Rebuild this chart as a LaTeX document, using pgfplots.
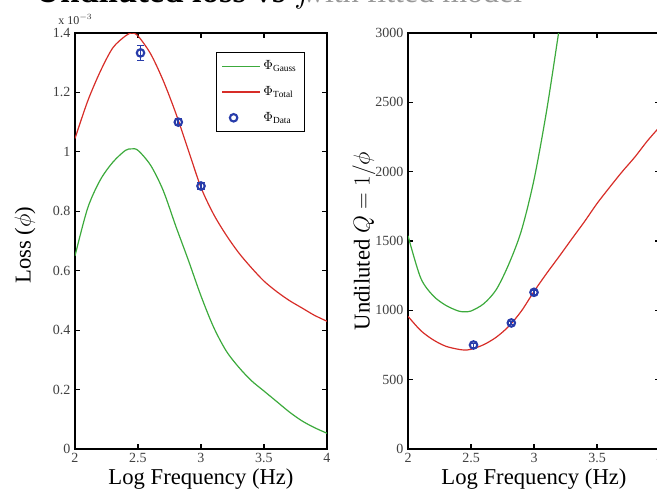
\documentclass[border=0pt]{standalone}
\usepackage{pgfplots}
\pgfplotsset{compat=1.18}
\usepackage{fontspec}
\setmainfont{Liberation Serif}
\definecolor{mgreen}{RGB}{60,170,60}
\definecolor{mred}{RGB}{215,45,40}
\definecolor{mblue}{RGB}{40,60,170}
\pgfplotsset{
  mylegline/.style={legend image code/.code={\draw[##1] (0cm,0cm) -- (1.0cm,0cm);}},
  myax/.style={
    scale only axis, width=189pt, height=312pt,
    xmin=2, xmax=4, xtick={2,2.5,3,3.5,4},
    tick align=inside, major tick length=4pt,
    tick style={black, line width=0.8pt},
    axis line style={line width=0.9pt},
    ticklabel style={font=\fontsize{10.5}{12}\selectfont, text=black!75},
    /pgf/number format/assume math mode=true,
    /pgf/number format/1000 sep={},
    xlabel={Log Frequency (Hz)},
    label style={font=\fontsize{17}{20}\selectfont},
    xlabel style={at={(axis description cs:0.5,0)}, anchor=center, yshift=-22.5pt},
  }
}
\begin{document}
\begin{tikzpicture}
\begin{axis}[myax,
  ymin=0, ymax=1.4, ytick={0,0.2,0.4,0.6,0.8,1,1.2,1.4},
  ylabel={Loss ($\phi$)},
  ylabel style={at={(axis description cs:-0.198,0.49)}, anchor=center},
  legend style={at={(0.913,0.954)}, anchor=north east, draw=black, line width=0.8pt,
    font=\fontsize{10}{12}\selectfont, row sep=7pt, inner sep=4pt},
  legend cell align=left,
]
\addplot[mgreen, line width=0.9pt, smooth, mylegline] coordinates {
(2.0,0.65) (2.1,0.81) (2.2,0.905) (2.3,0.965) (2.4,1.005) (2.45,1.01) (2.5,1.005)
(2.6,0.955) (2.7,0.87) (2.8,0.75) (2.9,0.635) (3.0,0.515) (3.1,0.41) (3.2,0.33)
(3.3,0.275) (3.4,0.23) (3.5,0.195) (3.6,0.16) (3.7,0.125) (3.8,0.095) (3.9,0.072) (4.0,0.053)};
\addlegendentry{$\Phi_{\mathrm{Gauss}}$}
\addplot[mred, line width=0.9pt, smooth, mylegline] coordinates {
(2.0,1.045) (2.1,1.17) (2.2,1.27) (2.3,1.35) (2.4,1.39) (2.45,1.40) (2.5,1.39)
(2.6,1.33) (2.7,1.24) (2.8,1.13) (2.9,1.005) (3.0,0.88) (3.1,0.79) (3.2,0.72)
(3.3,0.66) (3.4,0.61) (3.5,0.565) (3.6,0.53) (3.7,0.50) (3.8,0.475) (3.9,0.45) (4.0,0.43)};
\addlegendentry{$\Phi_{\mathrm{Total}}$}
\addplot[mblue, only marks, mark=o, mark size=2.8pt, line width=1.6pt,
  error bars/.cd, y dir=both, y explicit, error bar style={line width=1.4pt}] coordinates {
(2.52,1.333) +- (0,0.025)
(2.82,1.10) +- (0,0.012)
(3.0,0.885) +- (0,0.012)};
\addlegendentry{$\Phi_{\mathrm{Data}}$}
\end{axis}
\node[anchor=south west, font=\fontsize{9}{10}\selectfont, text=black!80, inner sep=0pt] at (-12.75pt,318pt) {x 10$^{-3}$};
\begin{axis}[myax, at={(249.75pt,0)},
  ymin=0, ymax=3000, ytick={0,500,1000,1500,2000,2500,3000},
  ylabel={Undiluted $Q = 1/\phi$},
  ylabel style={at={(axis description cs:-0.175,0.5)}, anchor=center},
]
\addplot[mgreen, line width=0.9pt, smooth] coordinates {
(2.0,1538) (2.1,1235) (2.2,1105) (2.3,1036) (2.4,995) (2.45,990) (2.5,995)
(2.6,1047) (2.7,1149) (2.8,1333) (2.9,1575) (3.0,1942) (3.1,2439) (3.2,3030) (3.3,3636)};
\addplot[mred, line width=0.9pt, smooth] coordinates {
(2.0,957) (2.1,855) (2.2,787) (2.3,741) (2.4,719) (2.45,714) (2.5,719)
(2.6,752) (2.7,806) (2.8,885) (2.9,995) (3.0,1136) (3.1,1266) (3.2,1389)
(3.3,1515) (3.4,1639) (3.5,1770) (3.6,1887) (3.7,2000) (3.8,2105) (3.9,2222) (4.0,2326)};
\addplot[mblue, only marks, mark=o, mark size=2.8pt, line width=1.6pt,
  error bars/.cd, y dir=both, y explicit, error bar style={line width=1.4pt}] coordinates {
(2.52,750) +- (0,14)
(2.82,909) +- (0,9)
(3.0,1130) +- (0,14)};
\end{axis}
\node[anchor=base west, font=\fontsize{26}{30}\selectfont\bfseries, inner sep=0pt] at (-30pt,335pt) {Undiluted loss vs $f$};
\node[anchor=base west, font=\fontsize{24}{30}\selectfont, text=black!40, inner sep=0pt] at (170pt,335pt) {with fitted model};
\pgfresetboundingbox
\useasboundingbox (-56.25pt,-36pt) rectangle (436.5pt,336.75pt);
\end{tikzpicture}
\end{document}
